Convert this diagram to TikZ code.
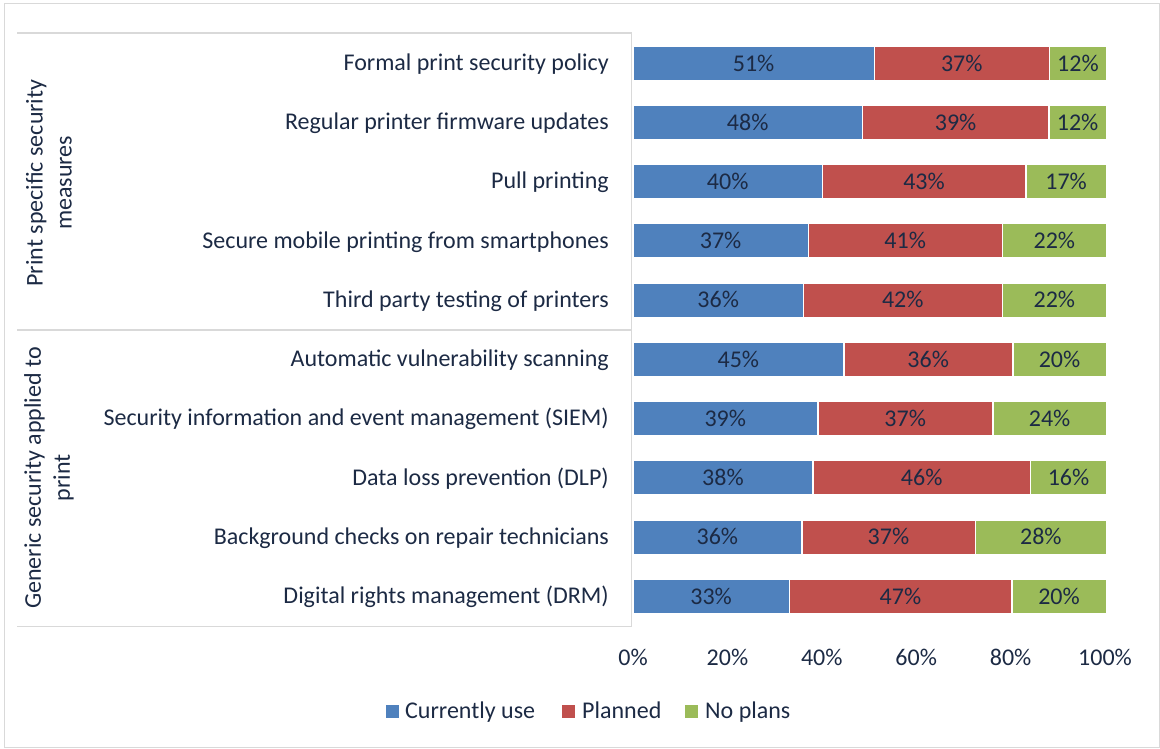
\documentclass[tikz,border=0pt]{standalone}
\usepackage{fontspec}
\setmainfont{Carlito}
\definecolor{cu}{HTML}{4F81BD}
\definecolor{pl}{HTML}{C0504D}
\definecolor{np}{HTML}{9BBB59}
\definecolor{txt}{HTML}{1C2A44}
\definecolor{gridc}{HTML}{D9D9D9}
\begin{document}
\begin{tikzpicture}[x=1pt,y=-1pt,
  font=\fontsize{24}{29}\selectfont, text=txt,
  seg/.style={draw=white, line width=0.5pt, inner sep=0pt, minimum height=34pt, anchor=west},
  catlab/.style={anchor=base east, inner sep=0pt},
  ticklab/.style={anchor=base, inner sep=0pt},
  legsq/.style={minimum size=13pt, inner sep=0pt},
  legtxt/.style={anchor=base west, inner sep=0pt},
  grouplab/.style={rotate=90, align=center, inner sep=0pt},
  axisline/.style={draw=gridc, line width=1.3pt}]
\useasboundingbox (0,0) rectangle (1160,749);
\draw[gridc, line width=1pt] (4,4) rectangle (1159.5,747.5);
% axis frame
\draw[axisline] (17,33) -- (631.5,33) -- (631.5,626.5) -- (17,626.5);
\draw[axisline] (17,330) -- (631.5,330);
% group labels
\node[grouplab] (g1) at (49,183) {Print specific security\\measures};
\node[grouplab] (g2) at (49,478) {Generic security applied to\\print};
% bars
\foreach \i/\lab/\a/\b/\c in {
 1/Formal print security policy/51/37/12,
 2/Regular printer firmware updates/48/39/12,
 3/Pull printing/40/43/17,
 4/Secure mobile printing from smartphones/37/41/22,
 5/Third party testing of printers/36/42/22,
 6/Automatic vulnerability scanning/45/36/20,
 7/Security information and event management (SIEM)/39/37/24,
 8/Data loss prevention (DLP)/38/46/16,
 9/Background checks on repair technicians/36/37/28,
 10/Digital rights management (DRM)/33/47/20}{
  \pgfmathsetmacro\yy{63+(\i-1)*59.22}
  \pgfmathsetmacro\s{\a+\b+\c}
  \pgfmathsetmacro\u{472/\s}
  \pgfmathsetmacro\wa{\u*\a}
  \pgfmathsetmacro\wb{\u*\b}
  \pgfmathsetmacro\wc{\u*\c}
  \node[catlab] (l\i) at (609,\yy+7.5) {\lab};
  \node[seg, fill=cu, minimum width=\wa pt] (b\i) at (633,\yy) {\a\%};
  \node[seg, fill=pl, minimum width=\wb pt] (p\i) at (b\i.east) {\b\%};
  \node[seg, fill=np, minimum width=\wc pt] (n\i) at (p\i.east) {\c\%};
}
% ticks
\foreach \k in {0,...,5}{
  \pgfmathtruncatemacro\pp{20*\k}
  \node[ticklab] (t\k) at (633+94.4*\k,665) {\pp\%};
}
% legend
\node[legsq, fill=cu] (q1) at (392.5,711) {};
\node[legtxt] (e1) at (405,718.5) {Currently use};
\node[legsq, fill=pl] (q2) at (568.5,711) {};
\node[legtxt] (e2) at (582,718.5) {Planned};
\node[legsq, fill=np] (q3) at (691.5,711) {};
\node[legtxt] (e3) at (705,718.5) {No plans};
\end{tikzpicture}
\end{document}
